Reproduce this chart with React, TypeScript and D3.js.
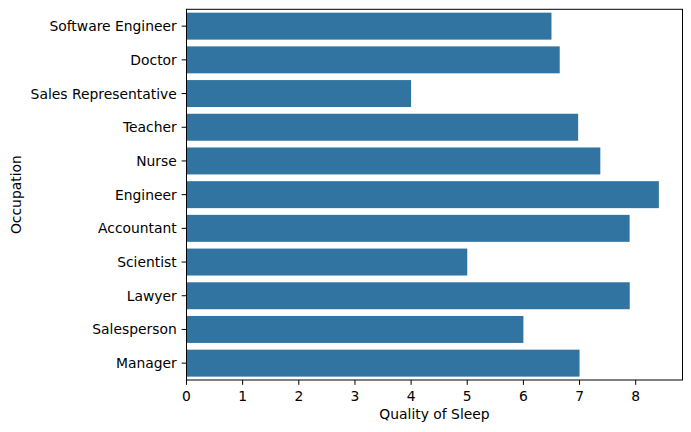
import React from "react";
import * as d3 from "d3";

const occupations = [
  "Software Engineer",
  "Doctor",
  "Sales Representative",
  "Teacher",
  "Nurse",
  "Engineer",
  "Accountant",
  "Scientist",
  "Lawyer",
  "Salesperson",
  "Manager",
];
const qualityOfSleep = [6.5, 6.647, 4.0, 6.975, 7.37, 8.413, 7.892, 5.0, 7.894, 6.0, 7.0];
const xTicks = [0, 1, 2, 3, 4, 5, 6, 7, 8];

const W = 691;
const H = 432;
const left = 186.5;
const right = 682.5;
const top = 9.3;
const bottom = 380;
const FONT = "'DejaVu Sans', sans-serif";
const FS = 13.89;
const TICK = 4.86;
const PAD = 4.86;

export default function App() {
  const xMax = d3.max(qualityOfSleep)! * 1.05;
  const x = d3.scaleLinear().domain([0, xMax]).range([left, right]);
  const y = d3
    .scaleBand<string>()
    .domain(occupations)
    .range([top, bottom])
    .paddingInner(0.2)
    .paddingOuter(0.1);
  const band = (bottom - top) / occupations.length;

  return (
    <svg
      width={W}
      height={H}
      style={{ position: "absolute", left: 0, top: 0, background: "#fff" }}
      fontFamily={FONT}
    >
      {occupations.map((o, i) => (
        <rect
          key={o}
          x={x(0)}
          y={top + band * i + band * 0.1}
          width={x(qualityOfSleep[i]) - x(0)}
          height={band * 0.8}
          fill="#3274a1"
        />
      ))}
      <rect
        x={left}
        y={top}
        width={right - left}
        height={bottom - top}
        fill="none"
        stroke="#000"
        strokeWidth={1}
      />
      {xTicks.map((t) => (
        <g key={t} transform={`translate(${x(t)},${bottom})`}>
          <line y1={0} y2={TICK} stroke="#000" strokeWidth={1} />
          <text
            y={TICK + PAD}
            dy="0.78em"
            textAnchor="middle"
            fontSize={FS}
            fill="#000"
          >
            {t}
          </text>
        </g>
      ))}
      {occupations.map((o, i) => {
        const cy = top + band * (i + 0.5);
        return (
          <g key={o} transform={`translate(${left},${cy})`}>
            <line x1={0} x2={-TICK} stroke="#000" strokeWidth={1} />
            <text
              x={-TICK - PAD}
              dy="0.36em"
              textAnchor="end"
              fontSize={FS}
              fill="#000"
            >
              {o}
            </text>
          </g>
        );
      })}
      <text
        x={(left + right) / 2}
        y={419}
        textAnchor="middle"
        fontSize={FS}
        fill="#000"
      >
        Quality of Sleep
      </text>
      <text
        transform={`translate(21,${(top + bottom) / 2}) rotate(-90)`}
        textAnchor="middle"
        fontSize={FS}
        fill="#000"
      >
        Occupation
      </text>
    </svg>
  );
}
